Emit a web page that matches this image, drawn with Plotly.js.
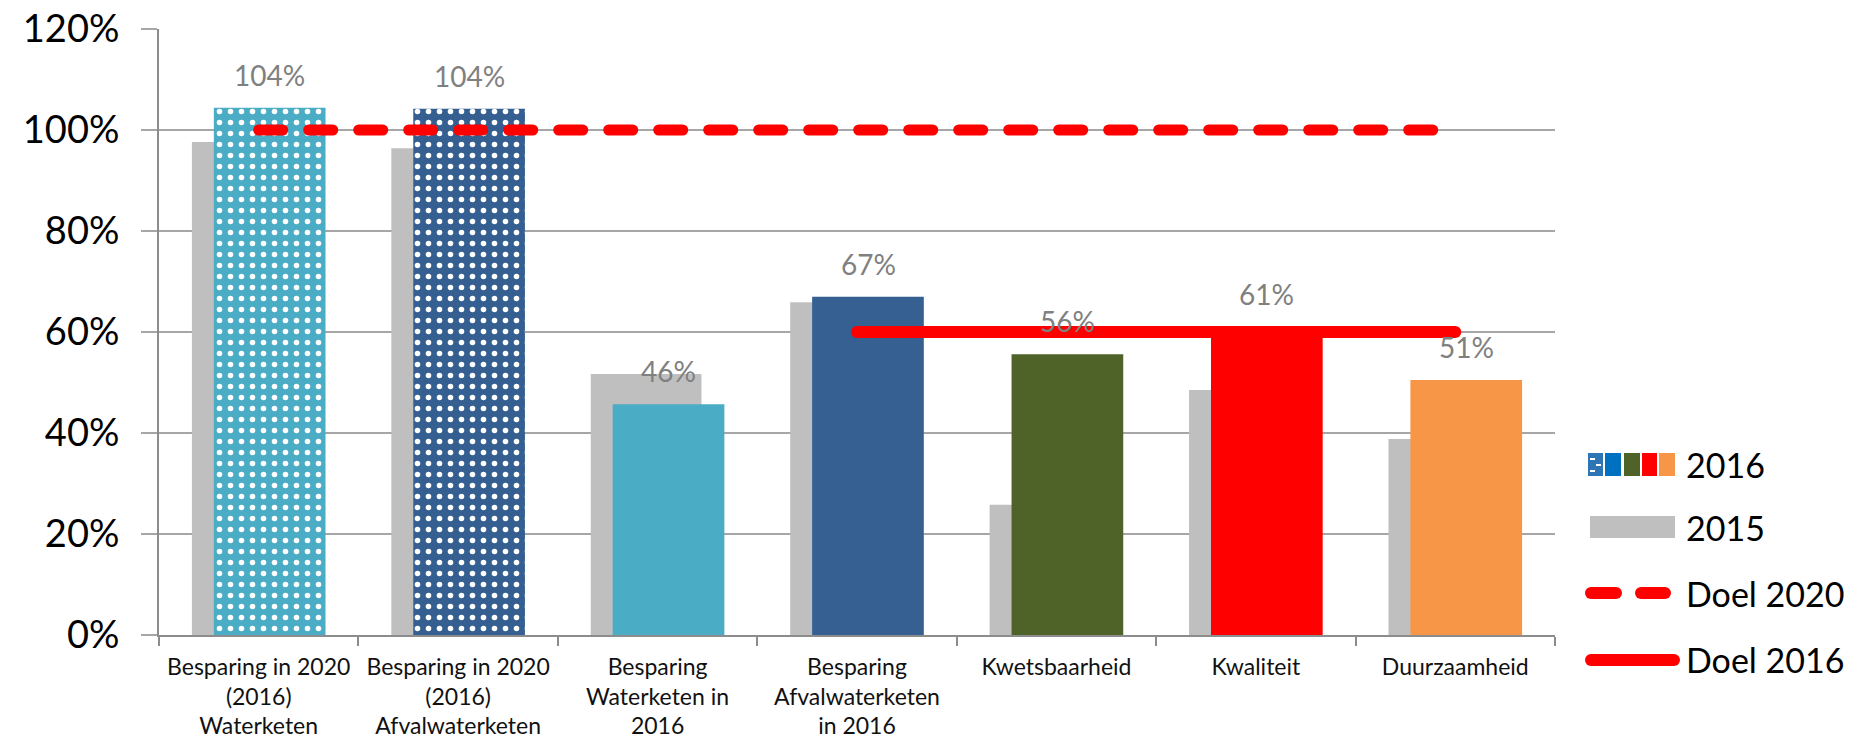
<!DOCTYPE html>
<html>
<head>
<meta charset="utf-8">
<script src="https://cdn.plot.ly/plotly-3.0.1.min.js"></script>
<style>
  html, body { margin: 0; padding: 0; background: #ffffff; }
  #chart { width: 1861px; height: 747px; }
</style>
</head>
<body>
<div id="chart"></div>
<script>
// ---- data ----
const categories = [
  'Besparing in 2020<br>(2016)<br>Waterketen',
  'Besparing in 2020<br>(2016)<br>Afvalwaterketen',
  'Besparing<br>Waterketen in<br>2016',
  'Besparing<br>Afvalwaterketen<br>in 2016',
  'Kwetsbaarheid',
  'Kwaliteit',
  'Duurzaamheid'
];
const values2015 = [97.6, 96.4, 51.7, 65.9, 25.8, 48.5, 38.8];
const values2016 = [104.4, 104.2, 45.7, 67.0, 55.6, 61.0, 50.5];
const colors2016 = ['#4BACC6', '#355F91', '#4BACC6', '#366092', '#4F6228', '#FF0000', '#F79646'];
const patterned2016 = [true, true, false, false, false, false, false];
const doel2020Categories = categories.slice(0);
const doel2020Values = [100, 100, 100, 100, 100, 100, 100];
const doel2016Categories = categories.slice(3);
const doel2016Values = [60, 60, 60, 60];
const yTickValues = [0, 20, 40, 60, 80, 100, 120];
const yTickLabels = ['0%', '20%', '40%', '60%', '80%', '100%', '120%'];
const legendNames = ['2016', '2015', 'Doel 2020', 'Doel 2016'];
const legendSwatch2016 = ['#2E75B6', '#0070C0', '#4F6228', '#FF0000', '#F79646'];

// ---- geometry helpers for the hand-drawn legend (pixel -> paper) ----
const M = {l: 159, r: 306, t: 29, b: 112};
const W = 1861, H = 747;
const PW = W - M.l - M.r, PH = H - M.t - M.b;
const px = x => (x - M.l) / PW;
const py = y => (H - M.b - y) / PH;

const FONT = 'Lato, "Open Sans", "DejaVu Sans", sans-serif';

const BAR_W = 0.56, OFF_2015 = -0.335, OFF_2016 = -0.225;

const traces = [
  {
    type: 'bar', name: '2015', x: categories, y: values2015,
    width: 0.555, offset: OFF_2015,
    marker: {color: '#BFBFBF', line: {width: 0}},
    showlegend: false, hoverinfo: 'y'
  }
];

// 2016: patterned bars (one trace each, scalar colour so the pattern colours apply)
categories.forEach((c, i) => {
  if (!patterned2016[i]) return;
  traces.push({
    type: 'bar', name: '2016', x: [c], y: [values2016[i]],
    width: BAR_W, offset: OFF_2016,
    marker: {
      color: colors2016[i], line: {width: 0},
      pattern: {shape: '.', fillmode: 'overlay', bgcolor: colors2016[i],
                fgcolor: '#ffffff', fgopacity: 1, size: 11, solidity: 0.2}
    },
    showlegend: false, hoverinfo: 'y'
  });
});
// 2016: solid bars
const solidIdx = categories.map((c, i) => i).filter(i => !patterned2016[i]);
traces.push({
  type: 'bar', name: '2016', x: solidIdx.map(i => categories[i]), y: solidIdx.map(i => values2016[i]),
  width: BAR_W, offset: OFF_2016,
  marker: {color: solidIdx.map(i => colors2016[i]), line: {width: 0}},
  showlegend: false, hoverinfo: 'y'
});

traces.push(
  {
    type: 'scatter', mode: 'lines', name: 'Doel 2020',
    x: doel2020Categories, y: doel2020Values,
    line: {color: '#FF0000', width: 11, dash: '24px,26px'},
    showlegend: false, hoverinfo: 'y'
  },
  {
    type: 'scatter', mode: 'lines', name: 'Doel 2016',
    x: doel2016Categories, y: doel2016Values,
    line: {color: '#FF0000', width: 12},
    showlegend: false, hoverinfo: 'y'
  }
);

// data labels above the 2016 bars
const annotations = values2016.map((v, i) => ({
  x: categories[i], y: v, xref: 'x', yref: 'y',
  text: Math.round(v) + '%', showarrow: false,
  xshift: 11, yshift: 33, yanchor: 'middle', xanchor: 'center',
  font: {family: FONT, size: 28, color: '#808080'}
}));

// custom legend
const legendRowsY = [464, 527, 593, 660];
legendNames.forEach((name, i) => {
  annotations.push({
    x: px(1684), y: py(legendRowsY[i]), xref: 'paper', yref: 'paper',
    text: name, showarrow: false, xanchor: 'left', yanchor: 'middle',
    font: {family: FONT, size: 34, color: '#000000'}
  });
});

const shapes = [];
const sq = [[1588, 1603], [1605, 1621], [1624, 1640], [1642, 1657], [1659, 1675]];
sq.forEach((s, i) => {
  shapes.push({type: 'rect', xref: 'paper', yref: 'paper',
    x0: px(s[0]), x1: px(s[1]), y0: py(476), y1: py(453),
    fillcolor: legendSwatch2016[i], line: {width: 0}});
});
// little white dashes on the patterned swatch
[[1590, 458], [1596, 464], [1590, 470]].forEach(d => {
  shapes.push({type: 'rect', xref: 'paper', yref: 'paper',
    x0: px(d[0]), x1: px(d[0] + 5), y0: py(d[1] + 2), y1: py(d[1]),
    fillcolor: '#ffffff', line: {width: 0}});
});
shapes.push({type: 'rect', xref: 'paper', yref: 'paper',
  x0: px(1590), x1: px(1675), y0: py(538), y1: py(516),
  fillcolor: '#BFBFBF', line: {width: 0}});
[[1591, 1616], [1641, 1665]].forEach(d => {
  shapes.push({type: 'line', xref: 'paper', yref: 'paper',
    x0: px(d[0]), x1: px(d[1]), y0: py(593), y1: py(593),
    line: {color: '#FF0000', width: 12}});
});
shapes.push({type: 'line', xref: 'paper', yref: 'paper',
  x0: px(1591), x1: px(1674), y0: py(660), y1: py(660),
  line: {color: '#FF0000', width: 12}});

const layout = {
  width: W, height: H,
  margin: M,
  paper_bgcolor: '#ffffff', plot_bgcolor: '#ffffff',
  font: {family: FONT, color: '#000000'},
  barmode: 'overlay',
  showlegend: false,
  xaxis: {
    type: 'category', categoryorder: 'array', categoryarray: categories,
    showline: true, linecolor: '#8c8c8c', linewidth: 2,
    ticks: 'outside', tickson: 'boundaries', ticklen: 9, tickwidth: 2, tickcolor: '#8c8c8c',
    tickfont: {family: FONT, size: 23, color: '#111111'},
    ticklabelstandoff: 10,
    showgrid: false, zeroline: false, fixedrange: true
  },
  yaxis: {
    range: [0, 120], tickmode: 'array', tickvals: yTickValues, ticktext: yTickLabels,
    showgrid: true, gridcolor: '#a6a6a6', gridwidth: 2,
    showline: true, linecolor: '#8c8c8c', linewidth: 2,
    ticks: 'outside', ticklen: 16, tickwidth: 2, tickcolor: '#a6a6a6',
    tickfont: {family: FONT, size: 38, color: '#000000'},
    ticklabelstandoff: 14,
    zeroline: false, fixedrange: true
  },
  annotations: annotations,
  shapes: shapes
};

Plotly.newPlot('chart', traces, layout, {displayModeBar: false, staticPlot: true}).then(gd => {
  gd.querySelectorAll('.scatterlayer path.js-line').forEach(p => {
    p.style.strokeLinecap = 'round';
  });
  gd.querySelectorAll('.shapelayer path').forEach(p => {
    p.style.strokeLinecap = 'round';
  });
});
</script>
</body>
</html>
